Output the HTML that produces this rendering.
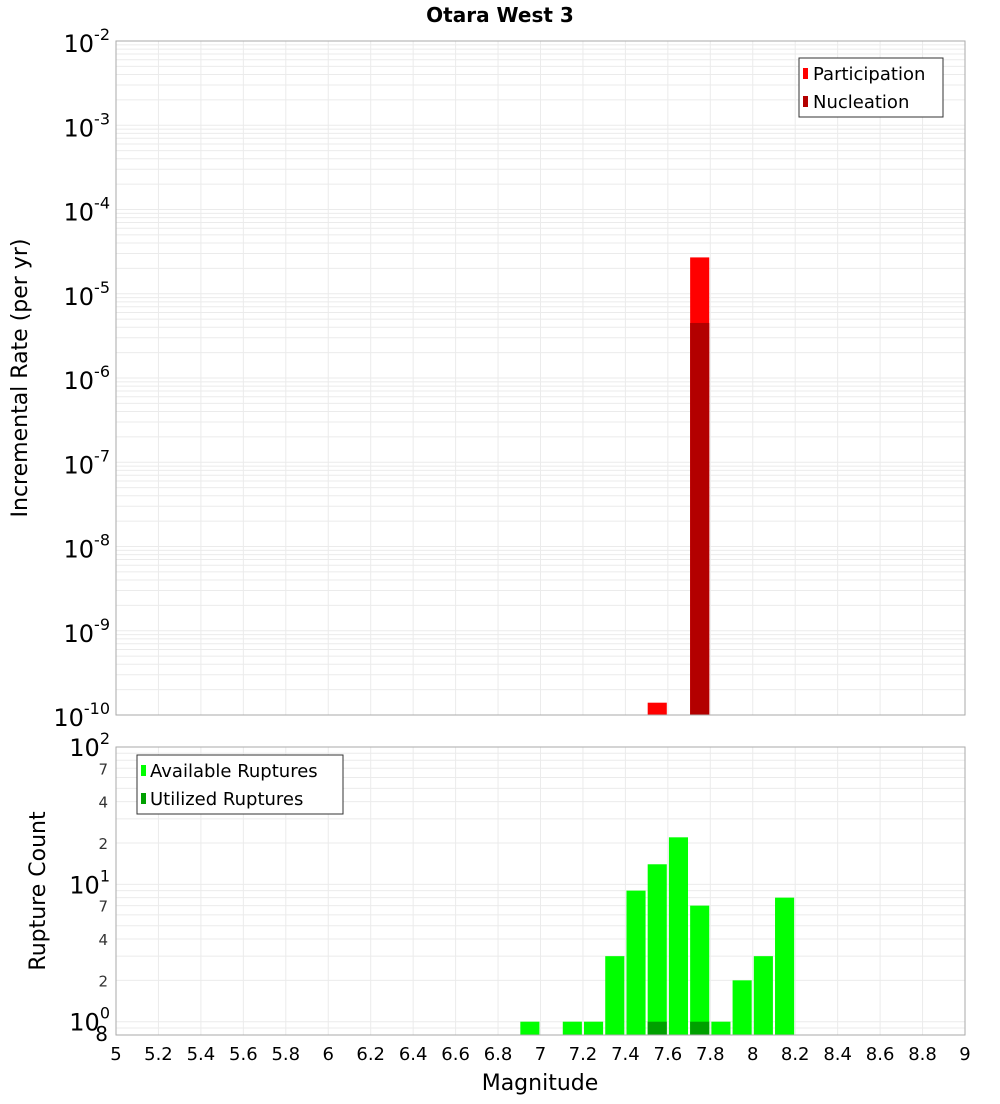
<!DOCTYPE html>
<html><head><meta charset="utf-8"><style>
body{margin:0;background:#fff;font-family:"DejaVu Sans","Liberation Sans",sans-serif;}
svg text{font-family:"DejaVu Sans","Liberation Sans",sans-serif;}
</style></head><body>
<svg id="chart" width="1000" height="1100" xmlns="http://www.w3.org/2000/svg">
<text x="500" y="22" text-anchor="middle" font-size="20" font-weight="bold">Otara West 3</text>
<g id="top-grid"></g>
<g id="bot-grid"></g>
<g id="top-bars"></g>
<g id="bot-bars"></g>
<rect x="116" y="41" width="849" height="674" fill="none" stroke="#aaa"/>
<rect x="116" y="747" width="849" height="288" fill="none" stroke="#aaa"/>
<g id="top-yticks"></g>
<g id="bot-yticks"></g>
<g id="xticks"></g>
<text transform="translate(27,378) rotate(-90)" text-anchor="middle" font-size="22">Incremental Rate (per yr)</text>
<text transform="translate(45,891) rotate(-90)" text-anchor="middle" font-size="22">Rupture Count</text>
<text x="540" y="1090" text-anchor="middle" font-size="22">Magnitude</text>
<g>
<rect x="799" y="58" width="144" height="59" fill="#fff" stroke="#333"/>
<rect x="803" y="68" width="5" height="11" fill="#ff0000"/>
<text x="813" y="80" font-size="18">Participation</text>
<rect x="803" y="96" width="5" height="11" fill="#b30000"/>
<text x="813" y="108" font-size="18">Nucleation</text>
</g>
<g>
<rect x="137" y="755" width="206" height="59" fill="#fff" stroke="#333"/>
<rect x="141" y="765" width="5" height="11" fill="#00ff00"/>
<text x="150" y="777" font-size="18">Available Ruptures</text>
<rect x="141" y="793" width="5" height="11" fill="#00a000"/>
<text x="150" y="805" font-size="18">Utilized Ruptures</text>
</g>
</svg>
<script>
const magBins=[6.95,7.15,7.25,7.35,7.45,7.55,7.65,7.75,7.85,7.95,8.05,8.15];
const availableCounts=[1,1,1,3,9,14,22,7,1,2,3,8];
const utilizedBins=[7.55,7.75];
const utilizedCounts=[1,1];
const partBins=[7.55,7.75];
const partRates=[1.4e-10,2.7e-5];
const nuclBins=[7.75];
const nuclRates=[4.5e-6];
const xTicks=[5,5.2,5.4,5.6,5.8,6,6.2,6.4,6.6,6.8,7,7.2,7.4,7.6,7.8,8,8.2,8.4,8.6,8.8,9];
const topExps=[-2,-3,-4,-5,-6,-7,-8,-9,-10];

const NS="http://www.w3.org/2000/svg";
const X0=116,X1=965;
const xs=m=>X0+(m-5)/4*(X1-X0);
const yt=v=>41+(-2-Math.log10(v))/8*674;
const BOT=Math.log10(0.8);
const yb=v=>747+(2-Math.log10(v))/(2-BOT)*288;
function mk(tag,attrs,parent){const e=document.createElementNS(NS,tag);for(const k in attrs)e.setAttribute(k,attrs[k]);document.getElementById(parent).appendChild(e);return e;}

// grids
for(const t of xTicks){
  const a=mk('line',{x1:xs(t),x2:xs(t),y1:41,y2:715,stroke:'#ebebeb'},'top-grid');
  
  
  const b=mk('line',{x1:xs(t),x2:xs(t),y1:747,y2:1035,stroke:'#ebebeb'},'bot-grid');
  
  
}
for(let e=-10;e<-2;e++){for(let k=1;k<10;k++){const y=yt(k*Math.pow(10,e));
  const l=mk('line',{x1:X0,x2:X1,y1:y,y2:y,stroke:'#ebebeb'},'top-grid');
  
  }}
for(let e=-1;e<2;e++){for(let k=1;k<10;k++){const v=k*Math.pow(10,e);if(v<0.8)continue;const y=yb(v);
  const l=mk('line',{x1:X0,x2:X1,y1:y,y2:y,stroke:'#ebebeb'},'bot-grid');
  
  }}

// bars
const W=xs(5.09)-xs(5);
partBins.forEach((m,i)=>{const y=yt(partRates[i]);
  const r=mk('rect',{x:xs(m)-W/2,y:y,width:W,height:715-y,fill:'#ff0000'},'top-bars');
  
  });
nuclBins.forEach((m,i)=>{const y=yt(nuclRates[i]);
  const r=mk('rect',{x:xs(m)-W/2,y:y,width:W,height:715-y,fill:'#b30000'},'top-bars');
  
  });
magBins.forEach((m,i)=>{const y=yb(availableCounts[i]);
  const r=mk('rect',{x:xs(m)-W/2,y:y,width:W,height:1035-y,fill:'#00ff00'},'bot-bars');
  
  });
utilizedBins.forEach((m,i)=>{const y=yb(utilizedCounts[i]);
  const r=mk('rect',{x:xs(m)-W/2,y:y,width:W,height:1035-y,fill:'#00a000'},'bot-bars');
  
  });

// x ticks
for(const t of xTicks){
  const tx=mk('text',{x:xs(t),y:1060,'text-anchor':'middle','font-size':18},'xticks');
  tx.textContent=String(t);
  
  
}
// top y ticks
for(const e of topExps){
  const y=yt(Math.pow(10,e));
  const g=mk('text',{x:110,y:y+11,'text-anchor':'end','font-size':24},'top-yticks');
  g.innerHTML='10<tspan dy="-12" font-size="16">'+e+'</tspan>';
  
  
}
// bottom y ticks
for(const e of [0,1,2]){
  const y=yb(Math.pow(10,e));
  const g=mk('text',{x:110,y:y+9,'text-anchor':'end','font-size':24},'bot-yticks');
  g.innerHTML='10<tspan dy="-12" font-size="16">'+e+'</tspan>';
  
  
}
for(const v of [2,4,7,20,40,70,0.8]){
  const y=yb(v);
  const g=mk('text',{x:108,y:y+6,'text-anchor':'end','font-size':v===0.8?20:15,fill:v===0.8?'#000':'#333'},'bot-yticks');
  g.textContent=v===0.8?'8':String(v>=10?v/10:v);
  
  
}
</script>
</body></html>
